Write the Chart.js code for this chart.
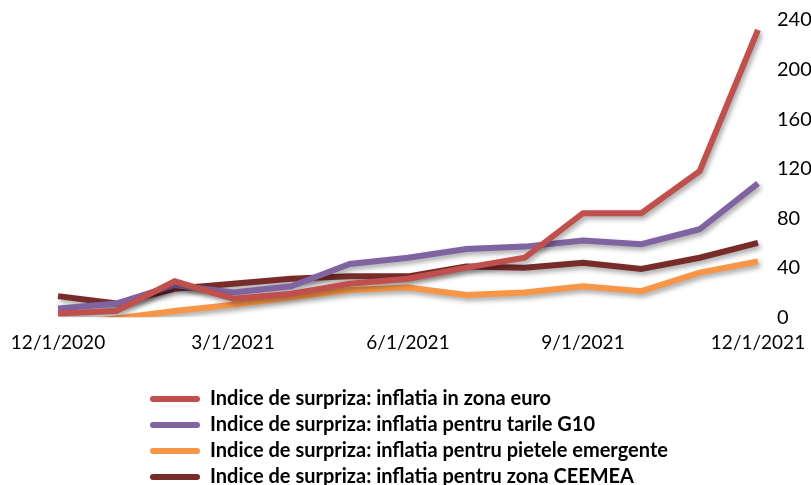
<!DOCTYPE html>
<html lang="ro">
<head>
    <meta charset="UTF-8">
    <title>Indice de surpriza: inflatia</title>
    <script src="https://cdn.jsdelivr.net/npm/chart.js"></script>
    <style>
        html, body { margin: 0; padding: 0; background: #fff; }
        #wrap { width: 811px; height: 485px; }
    </style>
</head>
<body>
    <div id="wrap"><canvas id="surpriseChart"></canvas></div>
    <script>
// monthly observations, Dec 2020 - Dec 2021
const months = ['12/1/2020', '1/1/2021', '2/1/2021', '3/1/2021', '4/1/2021', '5/1/2021', '6/1/2021',
                '7/1/2021', '8/1/2021', '9/1/2021', '10/1/2021', '11/1/2021', '12/1/2021'];
const euroArea = [3, 5, 29, 15, 19, 27, 31, 40, 48, 84, 84, 118, 232];
const g10 = [7, 11, 26, 20, 25, 43, 48, 55, 57, 62, 59, 71, 108];
const emerging = [-6, -1, 5, 10, 16, 22, 24, 18, 20, 25, 21, 36, 45];
const ceemea = [17, 11, 23, 27, 31, 33, 33, 41, 40, 44, 39, 48, 60];
const yTicks = [0, 40, 80, 120, 160, 200, 240];

const labelFont = "Lato, 'Open Sans', sans-serif";

function series(label, values, color) {
    return {
        label: label,
        data: values,
        borderColor: color,
        backgroundColor: color,
        borderWidth: 6,
        pointRadius: 0,
        tension: 0,
        borderJoinStyle: 'miter',
        clip: { left: 6, right: 6, top: 6, bottom: 0 }
    };
}

// soft drop shadow under the lines, like the original office chart
const shadowPlugin = {
    id: 'lineShadow',
    beforeDatasetDraw(chart) {
        const ctx = chart.ctx;
        ctx.save();
        ctx.shadowColor = 'rgba(0,0,0,0.35)';
        ctx.shadowBlur = 5;
        ctx.shadowOffsetX = 2;
        ctx.shadowOffsetY = 3;
    },
    afterDatasetDraw(chart) {
        chart.ctx.restore();
    }
};

// one legend entry per row, block starting at x=150
const legendShift = {
    id: 'legendShift',
    afterInit(chart) {
        const lg = chart.legend;
        const origUpdate = lg.update;
        lg.update = function (maxWidth, maxHeight, margins) {
            origUpdate.call(this, Math.min(maxWidth, 560), maxHeight, margins);
        };
    },
    afterLayout(chart) {
        const lg = chart.legend;
        const w = lg.right - lg.left;
        lg.left = 144;
        lg.right = 144 + w;
        lg.top += 15;
        lg.bottom += 15;
    }
};

const ctx = document.getElementById('surpriseChart').getContext('2d');
new Chart(ctx, {
    type: 'line',
    data: {
        labels: months,
        datasets: [
            series('Indice de surpriza: inflatia in zona euro', euroArea, '#C0504D'),
            series('Indice de surpriza: inflatia pentru tarile G10', g10, '#8064A2'),
            series('Indice de surpriza: inflatia pentru pietele emergente', emerging, '#F79646'),
            series('Indice de surpriza: inflatia pentru zona CEEMEA', ceemea, '#772C2A')
        ]
    },
    options: {
        responsive: true,
        maintainAspectRatio: false,
        animation: false,
        layout: { padding: { top: 20, right: 0, left: 0, bottom: 3 } },
        plugins: {
            tooltip: { enabled: false },
            legend: {
                position: 'bottom',
                align: 'start',
                labels: {
                    boxWidth: 50,
                    boxHeight: 6,
                    padding: 6,
                    useBorderRadius: true,
                    borderRadius: 3,
                    color: '#000',
                    font: { family: labelFont, size: 20, weight: 'bold' },
                    generateLabels(chart) {
                        const items = Chart.defaults.plugins.legend.labels.generateLabels(chart);
                        items.forEach(it => { it.lineWidth = 0; });
                        return items;
                    }
                }
            }
        },
        scales: {
            x: {
                grid: { display: false, drawTicks: false },
                border: { display: false },
                afterFit(axis) {
                    axis.paddingLeft = 58;
                    axis.paddingRight = 0;
                },
                ticks: {
                    autoSkip: false,
                    maxRotation: 0,
                    padding: 14,
                    color: '#000',
                    font: { family: labelFont, size: 19 },
                    callback(value, index) {
                        return index % 3 === 0 ? months[index] : '';
                    }
                }
            },
            y: {
                position: 'right',
                min: 0,
                max: 240,
                grid: { display: false, drawTicks: false },
                border: { display: false },
                afterBuildTicks(axis) {
                    axis.ticks = yTicks.map(v => ({ value: v }));
                },
                afterFit(axis) {
                    axis.width = 53;
                    axis.paddingTop = 0;
                    axis.paddingBottom = 0;
                },
                ticks: {
                    padding: 19,
                    color: '#000',
                    font: { family: labelFont, size: 20 }
                }
            }
        }
    },
    plugins: [shadowPlugin, legendShift]
});
    </script>
</body>
</html>
